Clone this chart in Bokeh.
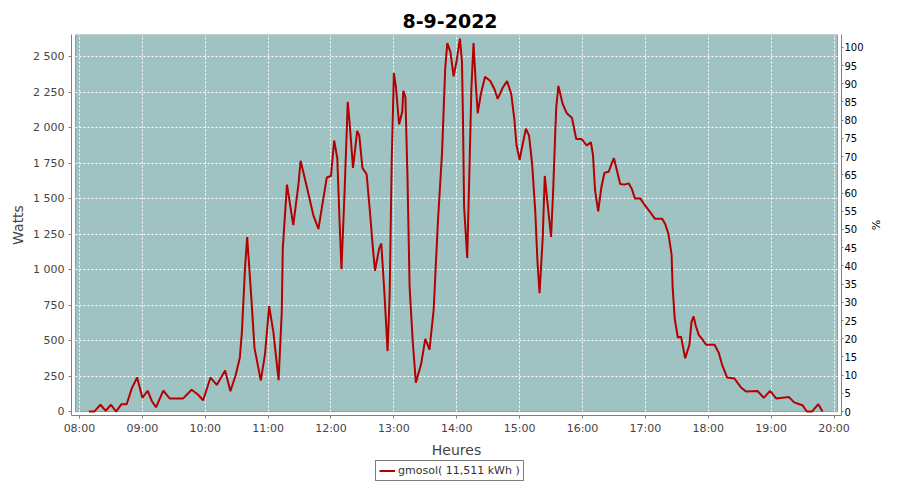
from bokeh.plotting import figure
from bokeh.layouts import column
from bokeh.models import (Range1d, LinearAxis, FixedTicker, BoxAnnotation,
                          Legend, LegendItem)
from bokeh.embed import file_html
from bokeh.resources import INLINE

title_text = "8-9-2022"
series_label = "gmosol( 11,511 kWh )"

times = ["08:09", "08:14", "08:20", "08:25", "08:30", "08:35", "08:40", "08:45",
         "08:50", "08:55", "09:00", "09:05", "09:09", "09:13", "09:20", "09:26",
         "09:39", "09:47", "09:53", "09:58", "10:05", "10:11", "10:19", "10:24",
         "10:29", "10:33", "10:35", "10:38", "10:40", "10:44", "10:47", "10:53",
         "10:57", "11:01", "11:05", "11:10", "11:13", "11:14", "11:18", "11:24",
         "11:29", "11:31", "11:37", "11:43", "11:48", "11:52", "11:56", "12:00",
         "12:03", "12:06", "12:08", "12:10", "12:13", "12:16", "12:18", "12:21",
         "12:25", "12:27", "12:30", "12:34", "12:37", "12:40", "12:42", "12:46",
         "12:48", "12:51", "12:54", "12:56", "12:58", "13:00", "13:02", "13:05",
         "13:08", "13:09", "13:11", "13:13", "13:15", "13:18", "13:21", "13:26",
         "13:30", "13:34", "13:38", "13:42", "13:46", "13:49", "13:51", "13:54",
         "13:57", "14:00", "14:03", "14:05", "14:06", "14:07", "14:10", "14:12",
         "14:14", "14:16", "14:18", "14:20", "14:23", "14:27", "14:32", "14:36",
         "14:39", "14:44", "14:48", "14:52", "14:55", "14:57", "15:00", "15:03",
         "15:06", "15:09", "15:12", "15:15", "15:17", "15:19", "15:22", "15:24",
         "15:26", "15:30", "15:32", "15:34", "15:35", "15:37", "15:41", "15:45",
         "15:50", "15:54", "15:59", "16:04", "16:08", "16:10", "16:12", "16:15",
         "16:18", "16:21", "16:25", "16:28", "16:30", "16:33", "16:36", "16:40",
         "16:44", "16:47", "16:50", "16:55", "17:00", "17:04", "17:09", "17:16",
         "17:19", "17:22", "17:25", "17:26", "17:28", "17:31", "17:34", "17:38",
         "17:42", "17:44", "17:46", "17:48", "17:51", "17:54", "17:58", "18:06",
         "18:10", "18:13", "18:18", "18:25", "18:31", "18:36", "18:47", "18:53",
         "18:59", "19:05", "19:17", "19:22", "19:27", "19:30", "19:34", "19:39",
         "19:45", "19:49"]

watts = [0, 0, 48, 5, 48, 0, 52, 52,
         165, 240, 97, 147, 75, 30, 147, 93,
         93, 154, 120, 80, 240, 188, 290, 143,
         256, 380, 562, 1015, 1231, 800, 449, 218,
         403, 743, 562, 222, 698, 1151, 1600, 1314,
         1605, 1768, 1582, 1389, 1287, 1469, 1650, 1661,
         1911, 1786, 1378, 1004, 1559, 2183, 2013, 1718,
         1979, 1945, 1718, 1673, 1423, 1151, 993, 1151,
         1185, 834, 426, 834, 1786, 2387, 2285, 2024,
         2115, 2262, 2217, 1650, 879, 494, 204, 335,
         512, 437, 721, 1333, 1831, 2421, 2598, 2534,
         2364, 2477, 2630, 2466, 2035, 1446, 1083, 1673,
         2285, 2598, 2330, 2103, 2239, 2360, 2330, 2273,
         2205, 2285, 2330, 2239, 2058, 1877, 1775, 1888,
         1994, 1945, 1741, 1401, 1061, 834, 1219, 1661,
         1514, 1231, 1559, 1967, 2149, 2296, 2171, 2103,
         2069, 1922, 1922, 1877, 1899, 1809, 1559, 1412,
         1582, 1684, 1691, 1752, 1786, 1695, 1605, 1600,
         1609, 1571, 1503, 1503, 1450, 1412, 1360, 1360,
         1321, 1253, 1106, 879, 653, 522, 528, 376,
         471, 630, 671, 607, 539, 512, 471, 471,
         415, 335, 240, 233, 172, 141, 145, 97,
         146, 92, 102, 65, 52, 45, 0, 0,
         52, 0]

x_tick_hours = [8, 9, 10, 11, 12, 13, 14, 15, 16, 17, 18, 19, 20]
x_tick_labels = ["08:00", "09:00", "10:00", "11:00", "12:00", "13:00", "14:00",
                 "15:00", "16:00", "17:00", "18:00", "19:00", "20:00"]
y_ticks = [0, 250, 500, 750, 1000, 1250, 1500, 1750, 2000, 2250, 2500]
y_tick_labels = ["0", "250", "500", "750", "1 000", "1 250", "1 500", "1 750",
                 "2 000", "2 250", "2 500"]
pct_ticks = [0, 5, 10, 15, 20, 25, 30, 35, 40, 45, 50, 55, 60, 65, 70, 75, 80,
             85, 90, 95, 100]

hours = [int(t[:2]) + int(t[3:]) / 60.0 for t in times]

TEAL = "#9EC3C2"
AX = "#808080"
TXT = "#444444"
RED = "#B40000"

p = figure(width=884, height=460, output_backend="svg", toolbar_location=None,
           x_range=Range1d(7.87293, 20.1191), y_range=Range1d(-27.7, 2658.4),
           min_border_left=71, min_border_right=42, min_border_top=34,
           min_border_bottom=39, background_fill_color="white",
           border_fill_color="white", title=title_text)
p.outline_line_color = None

p.title.text_font = "DejaVu Sans"
p.title.text_font_size = "19px"
p.title.text_font_style = "bold"
p.title.text_color = "black"
p.title.align = "left"
p.title.offset = 331
p.title.vertical_align = "top"
p.title.standoff = 10

# plot area (teal) inset inside the axes
p.add_layout(BoxAnnotation(left=7.93646, right=20.0556, bottom=0, top=2658.4,
                           fill_color=TEAL, fill_alpha=1.0, line_color="black",
                           line_width=1, level="image"))

p.xgrid.ticker = FixedTicker(ticks=x_tick_hours)
p.ygrid.ticker = FixedTicker(ticks=y_ticks[1:])
for g in (p.xgrid, p.ygrid):
    g.grid_line_color = "white"
    g.grid_line_dash = "2 2"
    g.grid_line_width = 1

p.xaxis.ticker = FixedTicker(ticks=x_tick_hours)
p.xaxis.major_label_overrides = dict(zip(x_tick_hours, x_tick_labels))
p.xaxis.axis_label = "Heures"
p.yaxis.ticker = FixedTicker(ticks=y_ticks)
p.yaxis.major_label_overrides = dict(zip(y_ticks, y_tick_labels))
p.yaxis.axis_label = "Watts"

for ax in (p.xaxis[0], p.yaxis[0]):
    ax.axis_line_color = AX
    ax.major_tick_line_color = AX
    ax.minor_tick_line_color = None
    ax.major_tick_out = 3
    ax.major_tick_in = 0
    ax.major_label_standoff = 4
    ax.major_label_text_font = "DejaVu Sans"
    ax.major_label_text_font_size = "11px"
    ax.major_label_text_color = TXT
    ax.axis_label_text_font = "DejaVu Sans"
    ax.axis_label_text_font_size = "14px"
    ax.axis_label_text_font_style = "normal"
    ax.axis_label_text_color = TXT
    ax.axis_label_standoff = 4
p.xaxis.major_label_standoff = 3

p.extra_y_ranges = {"pct": Range1d(-1.078, 103.52)}
rax = LinearAxis(y_range_name="pct", ticker=FixedTicker(ticks=pct_ticks),
                 axis_label="%")
rax.axis_line_color = AX
rax.major_tick_line_color = AX
rax.minor_tick_line_color = None
rax.major_tick_out = 2
rax.major_tick_in = 0
rax.major_label_standoff = 1
rax.major_label_text_font = "DejaVu Sans"
rax.major_label_text_font_size = "10px"
rax.major_label_text_color = "black"
rax.axis_label_text_font = "DejaVu Sans"
rax.axis_label_text_font_size = "11px"
rax.axis_label_text_font_style = "normal"
rax.axis_label_text_color = "black"
rax.axis_label_standoff = 2
p.add_layout(rax, "right")

r = p.line(hours, watts, line_color=RED, line_width=2)

# legend strip below the chart (its frame is aligned with the chart's frame)
p2 = figure(width=884, height=24, output_backend="svg", toolbar_location=None,
            x_range=Range1d(0, 1), y_range=Range1d(-2, -1), min_border=0,
            x_axis_location=None, y_axis_location=None, title=None,
            background_fill_color="white", border_fill_color="white")
p2.outline_line_color = None
p2.grid.visible = False
r2 = p2.line(hours, watts, line_color=RED, line_width=2)
legend = Legend(items=[LegendItem(label=series_label, renderers=[r2])],
                location=(304, 3), orientation="horizontal",
                border_line_color="black", border_line_width=1,
                background_fill_color="white", background_fill_alpha=1.0,
                label_text_font="DejaVu Sans", label_text_font_size="11px",
                label_text_color="#333333", glyph_width=16, glyph_height=13,
                label_height=13, label_standoff=3, padding=3, spacing=0,
                margin=0)
p2.add_layout(legend, "center")

layout = column(p, p2, spacing=0)
open("out.html", "w").write(file_html(layout, INLINE))
